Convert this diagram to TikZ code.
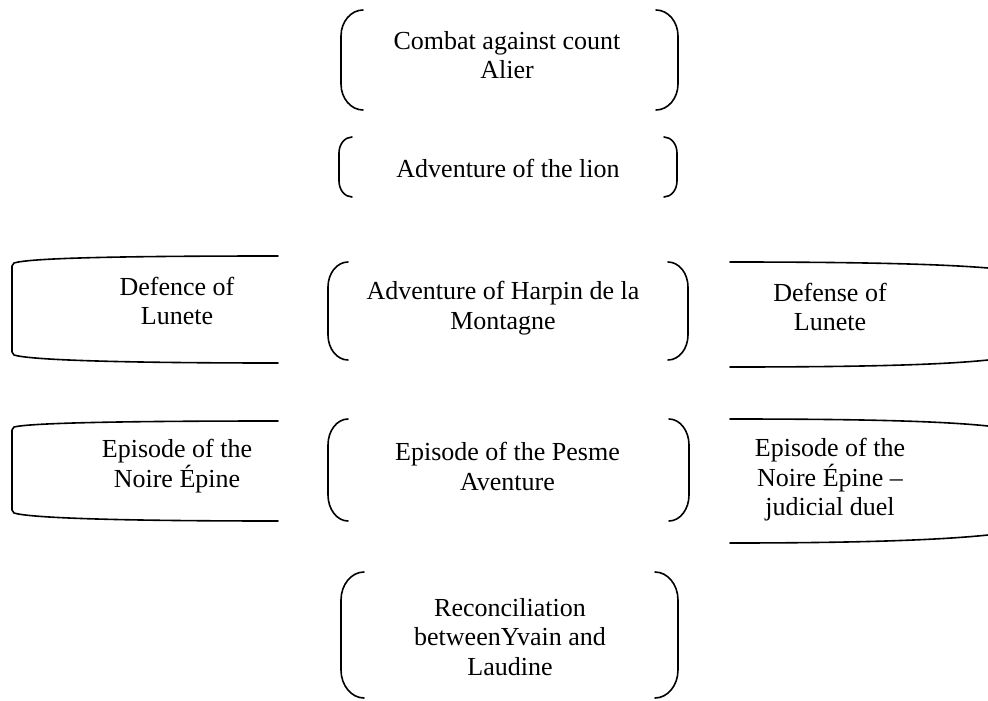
\documentclass[tikz,border=0pt]{standalone}
\usepackage{fontspec}
\setmainfont{Liberation Serif}
\begin{document}
\begin{tikzpicture}[x=1pt,y=-1pt,
  txt/.style={align=center, font=\fontsize{26}{29.5}\selectfont, inner sep=0pt},
  frame/.style={inner sep=0pt, outer sep=0pt},
  edge/.style={line width=1.6pt, line cap=round, line join=round}]
\useasboundingbox (0,0) rectangle (988,701);

% a pair of round brackets around a frame node: #1 name, #2 arm length, #3 curve depth
\newcommand\bracketpair[3]{%
  \draw[edge] ([xshift=#2]#1.north west)
       .. controls ([xshift=0.45*#2]#1.north west) and ([yshift=-0.45*#3]#1.north west) .. ([yshift=-#3]#1.north west)
     -- ([yshift=#3]#1.south west)
       .. controls ([yshift=0.45*#3]#1.south west) and ([xshift=0.45*#2]#1.south west) .. ([xshift=#2]#1.south west);
  \draw[edge] ([xshift=-#2]#1.north east)
       .. controls ([xshift=-0.45*#2]#1.north east) and ([yshift=-0.45*#3]#1.north east) .. ([yshift=-#3]#1.north east)
     -- ([yshift=#3]#1.south east)
       .. controls ([yshift=0.45*#3]#1.south east) and ([xshift=-0.45*#2]#1.south east) .. ([xshift=-#2]#1.south east);}

% central column of bracketed episodes
\node[frame, minimum width=337pt, minimum height=100pt] (f1) at (509.5,60) {};
\node[txt] (combat) at (507,55) {Combat against count\\Alier};
\bracketpair{f1}{22pt}{26pt}

\node[frame, minimum width=338pt, minimum height=60pt] (f2) at (508,167) {};
\node[txt] (lion) at (508,168) {Adventure of the lion};
\bracketpair{f2}{13pt}{16pt}

\node[frame, minimum width=360pt, minimum height=98pt] (f3) at (508,311) {};
\node[txt] (harpin) at (503,308) {Adventure of Harpin de la\\Montagne};
\bracketpair{f3}{20pt}{25pt}

\node[frame, minimum width=361pt, minimum height=102pt] (f4) at (508.5,470) {};
\node[txt] (pesme) at (507.5,466.5) {Episode of the Pesme\\Aventure};
\bracketpair{f4}{20pt}{26pt}

\node[frame, minimum width=337pt, minimum height=126pt] (f5) at (509.5,635) {};
\node[txt] (reconc) at (510,637) {Reconciliation\\betweenYvain and\\Laudine};
\bracketpair{f5}{23pt}{28pt}

% left-hand panels, open on the right
\node[txt] (defenceL) at (177,301) {Defence of\\Lunete};
\draw[edge] (278,256) .. controls (120,256) and (30,258) .. (14,263) -- (12,266) -- (12,352) -- (14,355)
  .. controls (30,360) and (120,363) .. (278,363);

\node[txt] (noireL) at (177,466) {Episode of the\\Noire Épine};
\draw[edge] (278,421) .. controls (120,421) and (30,423) .. (14,427) -- (12,430) -- (12,510) -- (14,513)
  .. controls (30,518) and (120,521) .. (278,521);

% right-hand panels, running off the right edge
\node[txt] (defenseR) at (830,307) {Defense of\\Lunete};
\draw[edge] (730,262) .. controls (860,262) and (940,264) .. (988,268);
\draw[edge] (730,367) .. controls (860,367) and (940,365) .. (988,360);

\node[txt] (noireR) at (830,480) {Episode of the\\Noire Épine –\\judicial duel};
\draw[edge] (730,419) .. controls (860,419) and (940,421) .. (988,426);
\draw[edge] (730,543) .. controls (860,543) and (940,540) .. (988,535);
\end{tikzpicture}
\end{document}
